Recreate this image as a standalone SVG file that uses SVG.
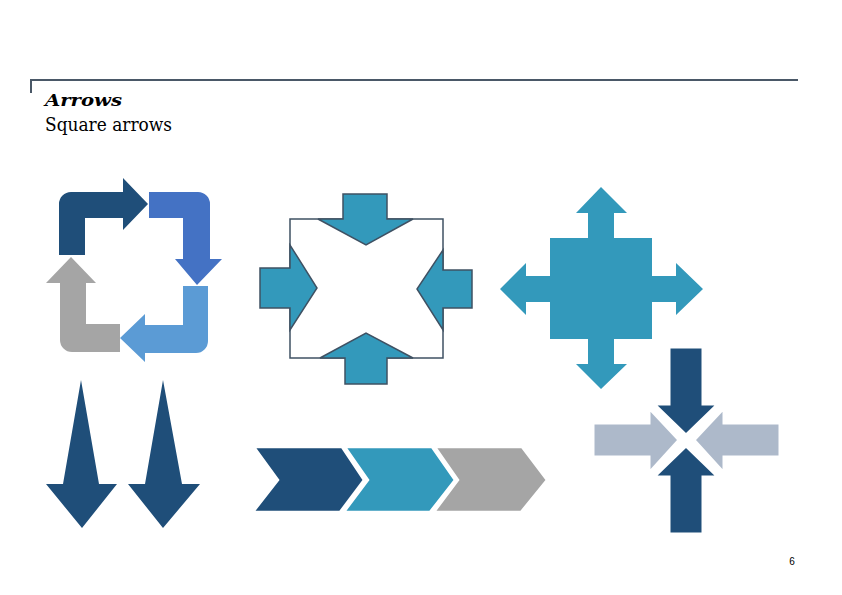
<svg xmlns="http://www.w3.org/2000/svg" width="842" height="595" viewBox="0 0 842 595">
<style>
.dk{fill:#1f4e79}
.teal{fill:#3399bb}
.gr{fill:#a5a5a5}
.lg{fill:#adb9ca}
.wo{stroke:#ffffff;stroke-width:3;stroke-linejoin:miter}
.wc{stroke:#ffffff;stroke-width:2.5;stroke-linejoin:miter}
.ol{stroke:#3f5163;stroke-width:1.5;stroke-linejoin:miter}
</style>
<rect width="842" height="595" fill="#ffffff"/>
<g id="header">
<path d="M31 93 V80 H798" fill="none" stroke="#4a5867" stroke-width="2"/>
<text x="45" y="106" font-family="DejaVu Serif, serif" font-size="16" font-weight="bold" font-style="italic" fill="#000" textLength="77" lengthAdjust="spacingAndGlyphs">Arrows</text>
<text x="45" y="131" font-family="DejaVu Serif, serif" font-size="18" fill="#000" textLength="127" lengthAdjust="spacingAndGlyphs">Square arrows</text>
</g>
<g id="loop">
<path class="dk" d="M59 255 V204 A12 12 0 0 1 71 192 H123 V178 L148 204 L123 230 V218 H85 V255 Z"/>
<path fill="#4472c4" d="M149 192 H198 A12 12 0 0 1 210 204 V259 H222 L197 285 L175 259 H183 V218 H149 Z"/>
<path fill="#5b9bd5" d="M183 286 H208 V341 A12 12 0 0 1 196 353 H145 V362 L120 338 L145 314 V325 H183 Z"/>
<path class="gr" d="M120 324 V352 H72 A12 12 0 0 1 60 340 V283 H46 L71 257 L96 283 H86 V324 Z"/>
</g>
<g id="converge-box">
<rect x="290" y="219" width="153" height="139" fill="#ffffff" class="ol"/>
<path class="teal ol" d="M343 194 H387 V219 H413 L366 245 L318 219 H343 Z"/>
<path class="teal ol" d="M345 384 H387 V358 H413 L366 333 L320 358 H345 Z"/>
<path class="teal ol" d="M260 268 H290 V245 L317 288 L290 330 V308 H260 Z"/>
<path class="teal ol" d="M472 270 H443 V250 L417 289 L443 330 V308 H472 Z"/>
</g>
<g id="cross-out">
<path class="teal" d="M550 238 H588 V213 H576 L601 187 L627 213 H614 V238 H652 V276 H676 V263 L703 289 L676 315 V302 H652 V339 H614 V364 H627 L601 389 L576 364 H588 V339 H550 V302 H526 V315 L500 289 L526 263 V276 H550 Z"/>
</g>
<g id="converge-cross">
<path class="dk wo" d="M669 347 H703 V404 H718 L686 435 L654 404 H669 Z"/>
<path class="dk wo" d="M669 534 H703 V477 H718 L686 446 L654 477 H669 Z"/>
<path class="lg wo" d="M593 423 H649 V408 L679 440 L649 473 V457 H593 Z"/>
<path class="lg wo" d="M780 423 H724 V408 L694 440 L724 473 V457 H780 Z"/>
</g>
<g id="down-arrows">
<path class="dk" d="M81 380 L99 484 H117 L82 528 L46 484 H63 Z"/>
<path class="dk" d="M163 380 L182 484 H200 L163 528 L128 484 H145 Z"/>
</g>
<g id="chevrons">
<path class="dk wc" d="M254 447 H342 L364 480 L340 512 H253 L278 480 Z"/>
<path class="teal wc" d="M345 447 H432 L455 480 L430 512 H344 L368 480 Z"/>
<path class="gr wc" d="M435 447 H522 L547 480 L521 512 H434 L458 480 Z"/>
</g>
<text x="792" y="565" font-family="Liberation Sans, sans-serif" font-size="10" fill="#000" text-anchor="middle">6</text>
</svg>
